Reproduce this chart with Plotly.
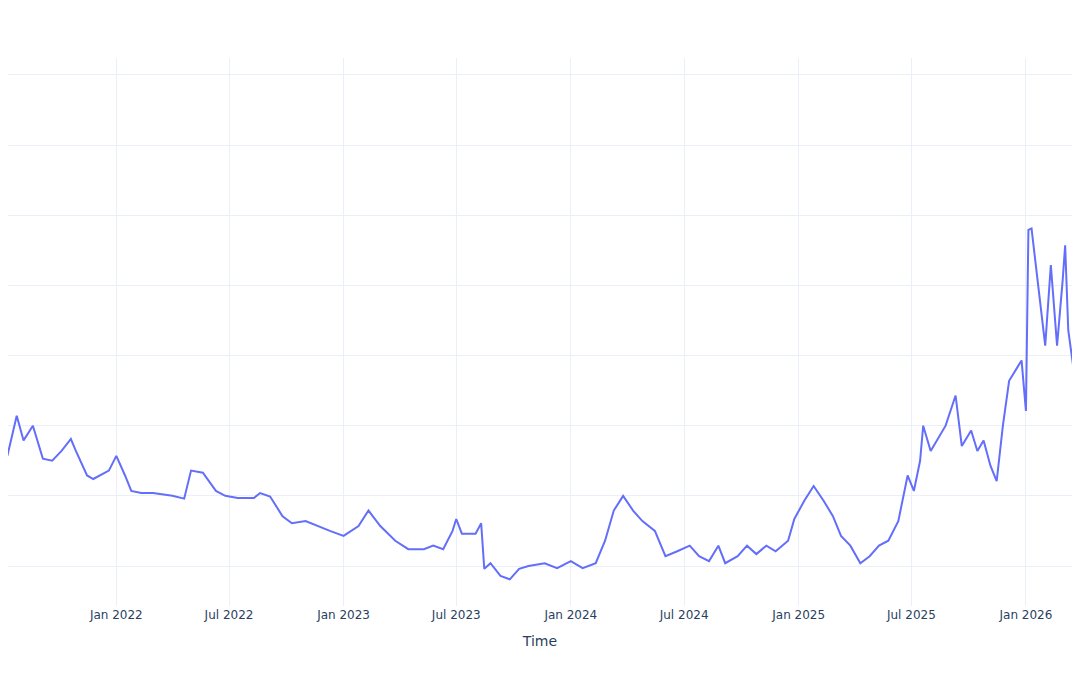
import plotly.graph_objects as go

dates = ['2021-06-28', '2021-07-10', '2021-07-25', '2021-08-05', '2021-08-20', '2021-09-05', '2021-09-20',
         '2021-10-05', '2021-10-20', '2021-10-28', '2021-11-15', '2021-11-25', '2021-12-20', '2022-01-01',
         '2022-01-15', '2022-01-25', '2022-02-10', '2022-03-01', '2022-04-01', '2022-04-20', '2022-05-01',
         '2022-05-20', '2022-06-10', '2022-06-25', '2022-07-15', '2022-08-10', '2022-08-20', '2022-09-05',
         '2022-09-25', '2022-10-10', '2022-11-01', '2022-11-20', '2022-12-10', '2023-01-01', '2023-01-25',
         '2023-02-10', '2023-03-01', '2023-03-25', '2023-04-15', '2023-05-10', '2023-05-25', '2023-06-10',
         '2023-06-25', '2023-07-01', '2023-07-10', '2023-08-01', '2023-08-10', '2023-08-15', '2023-08-25',
         '2023-09-10', '2023-09-25', '2023-10-10', '2023-10-25', '2023-11-20', '2023-12-10', '2024-01-01',
         '2024-01-20', '2024-02-10', '2024-02-25', '2024-03-10', '2024-03-25', '2024-04-10', '2024-04-25',
         '2024-05-15', '2024-06-01', '2024-06-20', '2024-07-10', '2024-07-25', '2024-08-10', '2024-08-25',
         '2024-09-05', '2024-09-25', '2024-10-10', '2024-10-25', '2024-11-10', '2024-11-25', '2024-12-15',
         '2024-12-25', '2025-01-10', '2025-01-25', '2025-02-10', '2025-02-25', '2025-03-10', '2025-03-25',
         '2025-04-10', '2025-04-25', '2025-05-10', '2025-05-25', '2025-06-10', '2025-06-25', '2025-07-05',
         '2025-07-15', '2025-07-20', '2025-08-01', '2025-08-15', '2025-08-25', '2025-09-10', '2025-09-20',
         '2025-10-05', '2025-10-15', '2025-10-25', '2025-11-05', '2025-11-15', '2025-11-25', '2025-12-05',
         '2025-12-15', '2025-12-25', '2026-01-01', '2026-01-05', '2026-01-10', '2026-01-20', '2026-02-01',
         '2026-02-10', '2026-02-20', '2026-03-01', '2026-03-05', '2026-03-10', '2026-03-20', '2026-03-28']
values = [20.7, 15.7, 21.4, 17.9, 20.0, 15.3, 15.0, 16.4, 18.1, 16.4, 12.9, 12.4, 13.6, 15.7, 12.9, 10.7,
          10.4, 10.4, 10.0, 9.6, 13.6, 13.3, 10.7, 10.0, 9.7, 9.7, 10.4, 9.9, 7.1, 6.1, 6.4, 5.7, 5.0, 4.3,
          5.7, 7.9, 5.7, 3.6, 2.4, 2.4, 2.9, 2.4, 5.0, 6.7, 4.6, 4.6, 6.1, -0.4, 0.4, -1.4, -1.9, -0.4, 0.0,
          0.4, -0.3, 0.7, -0.3, 0.4, 3.6, 7.9, 10.0, 7.9, 6.4, 5.0, 1.4, 2.1, 2.9, 1.4, 0.7, 2.9, 0.4, 1.4,
          2.9, 1.7, 2.9, 2.1, 3.6, 6.7, 9.3, 11.4, 9.3, 7.1, 4.3, 2.9, 0.4, 1.4, 2.9, 3.6, 6.4, 12.9, 10.7,
          15.0, 20.0, 16.4, 18.6, 20.0, 24.3, 17.1, 19.3, 16.4, 17.9, 14.3, 12.1, 20.0, 26.4, 27.9, 29.3,
          22.1, 47.9, 48.1, 40.7, 31.4, 42.9, 31.4, 40.7, 45.7, 33.6, 27.1, 27.9]

fig = go.Figure(go.Scatter(x=dates, y=values, mode='lines', line=dict(color='#636efa', width=2)))

fig.update_layout(
    template='plotly_white',
    font=dict(family='DejaVu Sans'),
    margin=dict(l=0, r=0, t=50, b=61),
    xaxis=dict(title='Time', range=['2021-07-11', '2026-03-16'], dtick='M6', tickformat='%b %Y',
               automargin=False),
    yaxis=dict(range=[-5.7, 72.4], tick0=0, dtick=10, showticklabels=False, zeroline=False,
               automargin=False),
    showlegend=False,
)

fig.write_html("out.html")
